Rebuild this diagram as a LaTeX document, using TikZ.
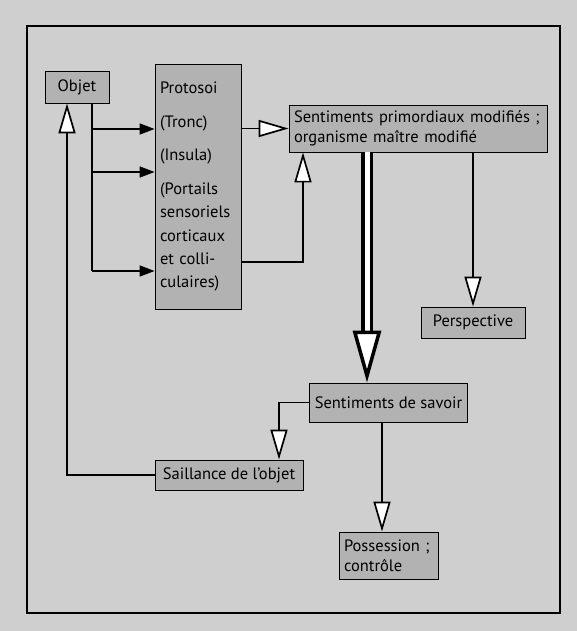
\documentclass[tikz,border=0pt]{standalone}
\usepackage{fontspec}
\setmainfont{PT Sans}
\usetikzlibrary{arrows.meta}
\definecolor{paper}{gray}{0.81}
\definecolor{boxgray}{gray}{0.70}
\tikzstyle{box} = [rectangle, draw, line width=0.9pt, fill=boxgray, inner sep=5pt, align=left, font=\fontsize{16.5}{20}\selectfont]
\tikzstyle{link} = [line width=1.7pt]
\tikzstyle{arrow} = [link, -{Triangle[fill=white, length=30pt, width=17pt]}]
\tikzstyle{fillarrow} = [link, -{Triangle[length=15pt, width=11pt]}]
\tikzstyle{bigarrow} = [double, line width=3.5pt, double distance=5pt, -{Triangle[fill=white, length=52pt, width=28pt]}]

\begin{document}
\begin{tikzpicture}[x=1pt, y=-1pt]

\fill[paper] (0,0) rectangle (577,631);
\draw[line width=1.2pt] (27,26) rectangle (560,613);

\node[box, minimum width=64pt, minimum height=32pt] (objet) at (77,87) {Objet};

\node[box, text width=76pt, minimum height=245pt, font=\fontsize{16.5}{23.3}\selectfont] (protosoi) at (198,186.5)
  {Protosoi\\[10.5pt] (Tronc)\\[10.5pt] (Insula)\\[10.5pt] (Portails\\ sensoriels\\ corticaux\\ et colli-\\ culaires)};

\node[box, text width=248pt, minimum height=47pt] (primordiaux) at (418,128.5)
  {Sentiments primordiaux modifiés ;\\ organisme maître modifié};

\node[box, minimum width=104pt, minimum height=31pt] (perspective) at (473,322.5) {Perspective};
\node[box, minimum width=157pt, minimum height=39pt] (savoir) at (388.5,402.5) {Sentiments de savoir};
\node[box, minimum width=148pt, minimum height=30pt] (saillance) at (229,475) {Saillance de l’objet};
\node[box, text width=89pt, minimum height=47pt] (possession) at (388.5,555.5) {Possession ;\\ contrôle};

% objet vers protosoi
\coordinate (b1) at (92,129);
\coordinate (b2) at (92,172);
\coordinate (b3) at (92,271);
\draw[link] (b3 |- objet.south) -- (b3);
\draw[fillarrow] (b1) -- (b1 -| protosoi.west);
\draw[fillarrow] (b2) -- (b2 -| protosoi.west);
\draw[fillarrow] (b3) -- (b3 -| protosoi.west);

% protosoi vers sentiments primordiaux
\coordinate (up) at (303,262);
\draw[arrow] (protosoi.east |- primordiaux.west) -- (primordiaux.west);
\draw[arrow] (up -| protosoi.east) -- (up) -- (up |- primordiaux.south);

% sentiments primordiaux vers le bas
\coordinate (big) at (367,0);
\draw[bigarrow] (big |- primordiaux.south) -- (big |- savoir.north);
\draw[arrow] (perspective.north |- primordiaux.south) -- (perspective.north);

% sentiments de savoir
\coordinate (down) at (382,0);
\draw[arrow] (savoir.west) -| (saillance.north -| 279,0);
\draw[arrow] (down |- savoir.south) -- (down |- possession.north);

% retour vers objet
\draw[arrow] (saillance.west) -| (objet.south -| 67,0);

\end{tikzpicture}
\end{document}
